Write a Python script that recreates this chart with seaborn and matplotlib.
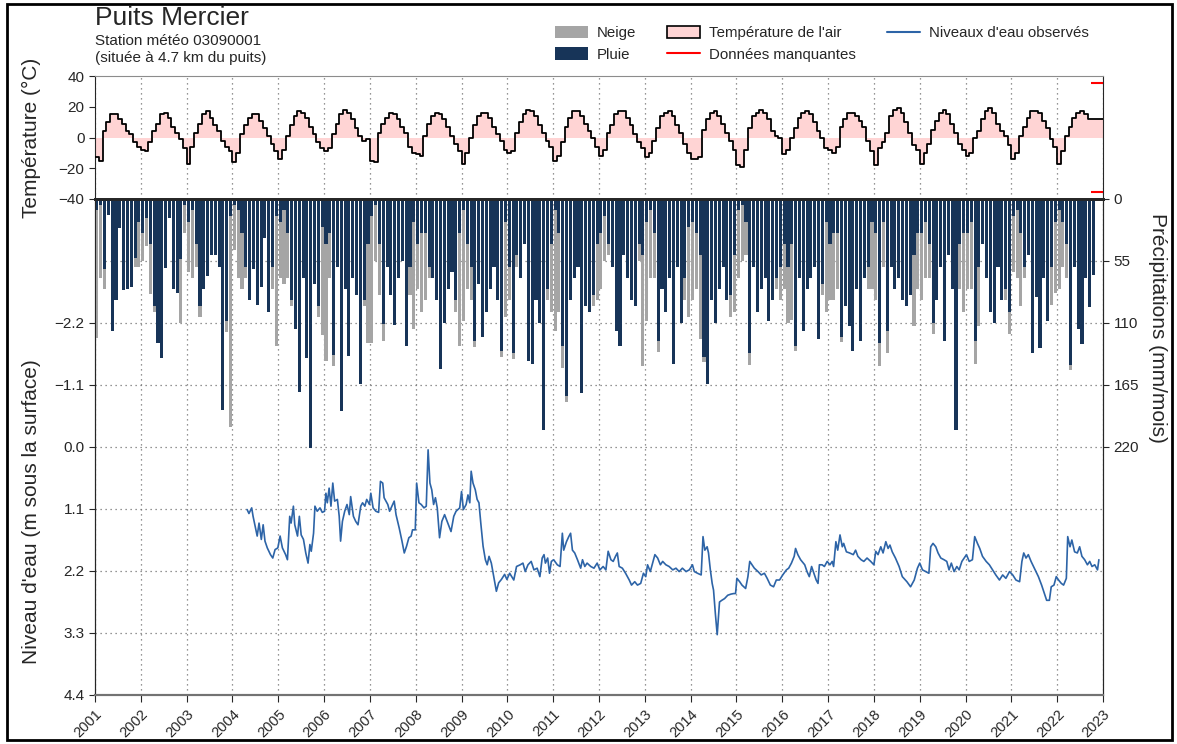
import numpy as np
import pandas as pd
import matplotlib
matplotlib.use("Agg")
import matplotlib.pyplot as plt
import seaborn as sns
from matplotlib.patches import Patch, Rectangle
from matplotlib.lines import Line2D

# ---------------- data ----------------
years = list(range(2001, 2023))

# monthly air temperature (deg C), Jan..Dec for each year
air_temp = [
    -13, -15, 4, 10, 15, 15, 12, 9, 4, 2, -3, -6,      # 2001
    -8, -9, -3, 4, 9, 15, 16, 13, 7, 3, -1, -7,        # 2002
    -17, -6, 3, 9, 15, 17, 13, 8, 4, -2, -6, -9,       # 2003
    -16, -10, 2, 8, 13, 15, 15, 11, 6, 1, -4, -9,      # 2004
    -14, -8, 1, 8, 14, 17, 16, 13, 7, 2, -3, -7,       # 2005
    -9, -7, 2, 9, 15, 18, 16, 12, 6, 1, -2, -1,        # 2006
    -15, -16, 3, 9, 13, 16, 15, 12, 7, 3, -6, -10,     # 2007
    -11, -12, 1, 9, 14, 16, 15, 12, 7, 1, -4, -9,      # 2008
    -17, -10, 0, 8, 14, 16, 16, 13, 7, 2, -2, -8,      # 2009
    -10, -9, 3, 10, 15, 18, 17, 14, 8, 3, -2, -6,      # 2010
    -15, -12, -3, 7, 13, 17, 17, 14, 9, 4, 0, -6,      # 2011
    -12, -8, 3, 8, 15, 17, 17, 13, 8, 2, -3, -7,       # 2012
    -13, -10, -2, 6, 14, 16, 17, 14, 8, 3, -4, -10,    # 2013
    -14, -14, -13, 5, 12, 16, 17, 14, 9, 3, -2, -8,    # 2014
    -18, -19, -8, 6, 14, 16, 18, 16, 12, 4, 1, 0,      # 2015
    -11, -8, 0, 6, 13, 16, 17, 15, 10, 4, 0, -7,       # 2016
    -8, -10, -6, 7, 12, 16, 16, 14, 11, 7, -2, -9,     # 2017
    -18, -7, -3, 3, 14, 18, 19, 16, 10, 3, -5, -8,     # 2018
    -17, -10, -4, 5, 11, 16, 18, 15, 9, 3, -4, -8,     # 2019
    -12, -10, 0, 4, 12, 17, 19, 16, 9, 4, 1, -5,       # 2020
    -14, -10, 1, 7, 13, 17, 17, 16, 11, 6, -1, -6,     # 2021
    -17, -9, 1, 7, 13, 16, 17, 15, 12, 12, 12, 12,     # 2022
]

nan = np.nan
# monthly rain (mm)
rain = [
    10, 5, 62, 14, 117, 90, 26, 81, 80, 78, 52, 20,
    30, 17, 40, 95, 128, 141, 61, 17, 80, 83, 53, 5,
    20, 10, 40, 95, 80, 68, 50, 50, 60, 187, 108, 15,
    5, 10, 30, 60, 90, 62, 94, 78, 35, 100, 60, 15,
    20, 10, 30, 90, 115, 171, 70, 141, 221, 75, 95, 25,
    40, 30, 138, 60, 188, 80, 139, 70, 85, 164, 90, 40,
    15, 5, 40, 111, 60, 85, 112, 70, 55, 130, 60, 20,
    40, 30, 30, 60, 70, 90, 151, 110, 80, 65, 90, 30,
    10, 40, 60, 126, 75, 122, 100, 80, 60, 90, 135, 20,
    60, 137, 50, 70, 40, 144, 146, 90, 110, 205, 80, 40,
    10, 30, 130, 175, 90, 70, 60, 172, 95, 100, 85, 40,
    30, 15, 40, 60, 117, 130, 50, 70, 90, 95, 40, 50,
    20, 10, 30, 126, 80, 100, 70, 146, 60, 110, 70, 25,
    20, 30, 50, 140, 164, 90, 110, 80, 60, 90, 85, 50,
    10, 5, 20, 137, 60, 100, 80, 70, 108, 90, 70, 60,
    40, 60, 40, 130, 70, 117, 80, 70, 60, 124, 75, 20,
    40, 30, 30, 122, 95, 113, 135, 80, 126, 70, 60, 20,
    30, 128, 20, 117, 60, 80, 70, 90, 95, 85, 50, 30,
    30, 20, 40, 110, 90, 60, 126, 50, 80, 205, 40, 30,
    30, 20, 126, 60, 40, 70, 100, 110, 60, 90, 80, 100,
    15, 10, 30, 60, 50, 137, 87, 132, 70, 108, 60, 20,
    10, 20, 40, 147, 60, 115, 129, 70, 96, 67, nan, nan,
]
# monthly snow (mm water equivalent)
snow = [
    113, 65, 18, 0, 0, 0, 0, 0, 0, 0, 8, 40,
    25, 25, 44, 5, 0, 0, 0, 0, 0, 0, 57, 25,
    45, 60, 20, 10, 0, 0, 0, 0, 0, 0, 10, 187,
    40, 60, 50, 10, 0, 0, 0, 0, 0, 0, 20, 115,
    50, 65, 40, 5, 0, 0, 0, 0, 0, 0, 10, 96,
    104, 40, 10, 0, 0, 0, 0, 0, 0, 0, 5, 88,
    113, 50, 45, 15, 0, 0, 0, 0, 0, 0, 25, 95,
    40, 70, 60, 10, 0, 0, 0, 0, 0, 0, 10, 100,
    98, 40, 30, 5, 0, 0, 0, 0, 0, 0, 5, 85,
    30, 5, 10, 0, 0, 0, 0, 0, 0, 0, 10, 60,
    107, 70, 20, 5, 0, 0, 0, 0, 0, 0, 10, 50,
    50, 40, 10, 0, 0, 0, 0, 0, 0, 0, 15, 98,
    88, 60, 40, 10, 0, 0, 0, 0, 0, 0, 20, 80,
    70, 50, 74, 5, 0, 0, 0, 0, 0, 0, 20, 50,
    60, 50, 30, 10, 0, 0, 0, 0, 0, 0, 10, 30,
    40, 50, 67, 5, 0, 0, 0, 0, 0, 0, 10, 80,
    50, 60, 50, 5, 0, 0, 0, 0, 0, 0, 20, 60,
    60, 20, 40, 20, 0, 0, 0, 0, 0, 0, 63, 50,
    60, 50, 30, 10, 0, 0, 0, 0, 0, 0, 40, 70,
    50, 60, 20, 53, 0, 0, 0, 0, 0, 0, 10, 20,
    50, 60, 65, 10, 0, 0, 0, 0, 0, 0, 34, 63,
    70, 40, 30, 5, 0, 0, 0, 0, 0, 0, nan, nan,
]

# observed water level (decimal year, m below surface)
wl_time = [
    2004.32, 2004.36, 2004.42, 2004.45, 2004.54, 2004.58, 2004.63, 2004.67, 2004.71, 2004.76,
    2004.83, 2004.88, 2004.93, 2004.99, 2005.04, 2005.09, 2005.16, 2005.20, 2005.25, 2005.28,
    2005.33, 2005.36, 2005.42, 2005.46, 2005.50, 2005.55, 2005.60, 2005.65, 2005.69, 2005.72,
    2005.77, 2005.80, 2005.85, 2005.91, 2005.96, 2006.01, 2006.04, 2006.07, 2006.11, 2006.15,
    2006.19, 2006.23, 2006.29, 2006.33, 2006.36, 2006.40, 2006.45, 2006.50, 2006.55, 2006.58,
    2006.64, 2006.69, 2006.74, 2006.80, 2006.84, 2006.89, 2006.93, 2006.99, 2007.02, 2007.07,
    2007.13, 2007.19, 2007.23, 2007.28, 2007.31, 2007.39, 2007.43, 2007.48, 2007.53, 2007.57,
    2007.64, 2007.70, 2007.75, 2007.80, 2007.85, 2007.90, 2007.93, 2007.99, 2008.02, 2008.07,
    2008.12, 2008.18, 2008.23, 2008.27, 2008.31, 2008.35, 2008.39, 2008.43, 2008.47, 2008.52,
    2008.57, 2008.63, 2008.70, 2008.77, 2008.83, 2008.88, 2008.96, 2009.00, 2009.04, 2009.10,
    2009.14, 2009.18, 2009.21, 2009.25, 2009.30, 2009.34, 2009.38, 2009.42, 2009.47, 2009.52,
    2009.56, 2009.60, 2009.65, 2009.70, 2009.76, 2009.81, 2009.87, 2009.94, 2009.99, 2010.05,
    2010.14, 2010.20, 2010.28, 2010.34, 2010.39, 2010.45, 2010.52, 2010.58, 2010.65, 2010.71,
    2010.76, 2010.80, 2010.83, 2010.88, 2010.92, 2010.96, 2011.01, 2011.09, 2011.15, 2011.20,
    2011.23, 2011.29, 2011.34, 2011.38, 2011.42, 2011.47, 2011.53, 2011.60, 2011.64, 2011.69,
    2011.74, 2011.82, 2011.89, 2011.96, 2012.02, 2012.09, 2012.15, 2012.20, 2012.26, 2012.31,
    2012.36, 2012.40, 2012.44, 2012.51, 2012.58, 2012.66, 2012.71, 2012.78, 2012.84, 2012.91,
    2012.97, 2013.02, 2013.06, 2013.12, 2013.17, 2013.22, 2013.28, 2013.34, 2013.39, 2013.46,
    2013.53, 2013.61, 2013.68, 2013.75, 2013.82, 2013.90, 2013.97, 2014.04, 2014.08, 2014.15,
    2014.23, 2014.27, 2014.31, 2014.36, 2014.39, 2014.43, 2014.47, 2014.50, 2014.54, 2014.58,
    2014.63, 2014.68, 2014.74, 2014.81, 2014.88, 2014.94, 2014.98, 2015.01, 2015.07, 2015.12,
    2015.20, 2015.25, 2015.29, 2015.34, 2015.39, 2015.47, 2015.54, 2015.61, 2015.67, 2015.74,
    2015.81, 2015.87, 2015.94, 2016.01, 2016.09, 2016.14, 2016.20, 2016.26, 2016.29, 2016.34,
    2016.40, 2016.49, 2016.54, 2016.59, 2016.64, 2016.69, 2016.74, 2016.78, 2016.81, 2016.87,
    2016.92, 2016.98, 2017.04, 2017.09, 2017.12, 2017.17, 2017.21, 2017.26, 2017.31, 2017.34,
    2017.40, 2017.47, 2017.55, 2017.60, 2017.65, 2017.72, 2017.78, 2017.85, 2017.93, 2018.00,
    2018.04, 2018.09, 2018.15, 2018.20, 2018.26, 2018.31, 2018.35, 2018.40, 2018.47, 2018.55,
    2018.62, 2018.72, 2018.80, 2018.88, 2018.95, 2019.00, 2019.06, 2019.13, 2019.20, 2019.24,
    2019.29, 2019.35, 2019.40, 2019.46, 2019.53, 2019.59, 2019.64, 2019.69, 2019.75, 2019.81,
    2019.86, 2019.92, 2019.97, 2020.02, 2020.08, 2020.15, 2020.20, 2020.26, 2020.31, 2020.37,
    2020.45, 2020.52, 2020.59, 2020.66, 2020.74, 2020.81, 2020.88, 2020.96, 2021.03, 2021.10,
    2021.18, 2021.23, 2021.27, 2021.32, 2021.37, 2021.43, 2021.50, 2021.59, 2021.66, 2021.72,
    2021.77, 2021.83, 2021.87, 2021.93, 2021.98, 2022.03, 2022.09, 2022.14, 2022.20, 2022.23,
    2022.28, 2022.32, 2022.38, 2022.44, 2022.49, 2022.54, 2022.60, 2022.66, 2022.71, 2022.76,
    2022.82, 2022.88, 2022.91,
]
wl_depth = [
    1.11, 1.18, 1.08, 1.23, 1.58, 1.35, 1.64, 1.38, 1.67, 1.79,
    1.91, 1.97, 1.82, 1.79, 1.58, 1.79, 1.91, 2.00, 1.23, 1.35,
    1.05, 1.38, 1.58, 1.23, 1.56, 1.64, 1.88, 2.06, 1.73, 1.85,
    1.53, 1.05, 1.14, 1.08, 1.16, 1.14, 0.82, 0.99, 0.73, 1.05,
    0.64, 0.96, 0.93, 1.23, 1.67, 1.32, 1.14, 1.02, 1.20, 0.88,
    1.23, 1.32, 1.38, 1.05, 0.99, 1.05, 0.93, 1.02, 0.82, 1.08,
    1.14, 1.16, 0.61, 0.64, 0.90, 1.02, 1.14, 1.05, 0.96, 1.20,
    1.44, 1.67, 1.88, 1.76, 1.61, 1.58, 1.47, 1.47, 0.64, 0.99,
    1.02, 1.08, 1.05, 0.05, 0.64, 0.76, 1.02, 0.90, 1.08, 1.61,
    1.32, 1.20, 1.35, 1.50, 1.23, 1.14, 1.08, 0.79, 1.11, 1.02,
    0.85, 0.99, 0.43, 0.64, 0.76, 0.93, 0.99, 1.35, 1.76, 2.00,
    2.09, 1.94, 2.06, 2.29, 2.56, 2.41, 2.35, 2.26, 2.35, 2.24,
    2.36, 2.12, 2.09, 2.06, 2.21, 2.09, 2.03, 2.18, 2.15, 2.30,
    1.97, 1.91, 2.06, 1.97, 2.24, 2.03, 2.00, 2.09, 2.12, 1.53,
    1.83, 1.68, 1.59, 1.53, 1.83, 1.88, 2.00, 2.15, 2.00, 2.12,
    2.06, 2.12, 2.15, 2.06, 2.18, 2.12, 2.18, 1.85, 2.00, 2.03,
    1.94, 1.88, 2.12, 2.15, 2.24, 2.36, 2.45, 2.39, 2.45, 2.42,
    2.24, 2.30, 2.09, 2.21, 2.06, 1.91, 1.97, 2.09, 2.03, 2.09,
    2.12, 2.18, 2.15, 2.21, 2.15, 2.21, 2.18, 2.09, 2.21, 2.24,
    2.27, 1.59, 1.83, 1.77, 1.88, 2.18, 2.42, 2.54, 2.96, 3.33,
    2.75, 2.72, 2.69, 2.63, 2.61, 2.60, 2.60, 2.33, 2.39, 2.45,
    2.51, 2.30, 2.03, 2.09, 2.15, 2.21, 2.27, 2.24, 2.33, 2.45,
    2.48, 2.36, 2.36, 2.27, 2.18, 2.15, 2.06, 1.94, 1.80, 1.91,
    2.00, 2.09, 2.21, 2.30, 2.12, 2.24, 2.36, 2.42, 2.09, 2.09,
    2.12, 2.03, 2.09, 2.03, 2.12, 1.68, 1.83, 1.56, 1.77, 1.71,
    1.86, 1.88, 1.91, 1.83, 1.94, 2.00, 2.03, 1.97, 2.03, 2.09,
    1.85, 1.91, 1.77, 1.88, 1.68, 1.80, 1.74, 1.86, 1.97, 2.12,
    2.30, 2.39, 2.48, 2.36, 2.15, 2.06, 2.18, 2.21, 2.24, 1.77,
    1.71, 1.77, 1.88, 1.97, 2.00, 2.03, 2.18, 2.06, 2.21, 2.12,
    2.18, 2.03, 1.97, 1.91, 2.03, 2.00, 1.59, 1.71, 1.80, 1.94,
    2.03, 2.09, 2.18, 2.27, 2.36, 2.27, 2.33, 2.21, 2.27, 2.36,
    2.39, 2.03, 1.88, 1.97, 1.91, 2.03, 2.15, 2.30, 2.45, 2.60,
    2.72, 2.72, 2.48, 2.45, 2.30, 2.36, 2.42, 2.45, 2.33, 1.59,
    1.77, 1.65, 1.86, 1.88, 1.77, 1.94, 2.00, 2.09, 2.03, 2.12,
    2.09, 2.18, 2.00,
]

year_ticks = list(range(2001, 2024))
temp_ticks = [-40, -20, 0, 20, 40]
level_ticks = [-2.2, -1.1, 0.0, 1.1, 2.2, 3.3, 4.4]
precip_ticks = [0, 55, 110, 165, 220]
missing_period = (2022.73, 2023.0)

# ---------------- style ----------------
sns.set_style("ticks")
plt.rcParams["font.family"] = ["Liberation Sans", "DejaVu Sans"]

c_rain = "#173458"
c_snow = "#a5a5a5"
c_temp = "#ffd4d4"
c_wl = "#2d64a7"
grid_kw = dict(color="0.45", ls=(0, (1, 3)), lw=0.9)

fig = plt.figure(figsize=(11.77, 7.44), dpi=100)
L, W = 95 / 1177, 1008 / 1177
ax_t = fig.add_axes([L, 1 - 199 / 744, W, 123 / 744])
ax_m = fig.add_axes([L, 1 - 695 / 744, W, 496 / 744])
ax_p = ax_m.twinx()

# ---------------- temperature ----------------
t_month = [y + m / 12 for y in years for m in range(12)]
t_ext = t_month + [years[-1] + 1]
T_ext = air_temp + [air_temp[-1]]
df_t = pd.DataFrame({"t": t_ext, "T": T_ext})
ax_t.fill_between(df_t["t"], 0, df_t["T"], step="post", color=c_temp, lw=0, zorder=1)
sns.lineplot(data=df_t, x="t", y="T", ax=ax_t, color="black", lw=1.3,
             drawstyle="steps-post", zorder=3)
ax_t.hlines([35.5, -35.5], *missing_period, color="red", lw=1.5, zorder=4)
ax_t.set_xlim(2001, 2023)
ax_t.set_ylim(-40, 40)
ax_t.set_yticks(temp_ticks)
ax_t.set_xticks(year_ticks)
ax_t.tick_params(axis="x", length=0, labelbottom=False)
ax_t.tick_params(axis="y", labelsize=11, length=4)
ax_t.grid(True, axis="x", **grid_kw)
ax_t.set_xlabel("")
ax_t.set_ylabel("Température (°C)", fontsize=15)
ax_t.yaxis.set_label_coords(-0.054, 0.5)
ax_t.spines["top"].set_color("0.55")
ax_t.spines["bottom"].set_linewidth(2)
ax_t.spines["right"].set_visible(True)

# ---------------- precipitation ----------------
centers = [y + (m + 0.5) / 12 for y in years for m in range(12)]
ax_p.bar(centers, rain, width=0.82 / 12, color=c_rain, lw=0, zorder=2)
ax_p.bar(centers, snow, bottom=rain, width=0.82 / 12, color=c_snow, lw=0, zorder=2)
ax_p.set_ylim(440, 0)
ax_p.set_yticks(precip_ticks)
ax_p.tick_params(axis="y", labelsize=11, length=4)
ax_p.set_ylabel("Précipitations (mm/mois)", fontsize=15, rotation=270, va="bottom")
ax_p.yaxis.set_label_coords(1.045, 0.74)

# ---------------- water level ----------------
df_w = pd.DataFrame({"t": wl_time, "d": wl_depth})
sns.lineplot(data=df_w, x="t", y="d", ax=ax_m, color=c_wl, lw=1.2, sort=False)
ax_m.set_ylim(4.4, -4.4)
ax_m.set_yticks(level_ticks)
ax_m.set_yticklabels([f"{v:.1f}".replace("-", "\u2212") for v in level_ticks])
ax_m.set_yticks([-3.3], minor=True)
ax_m.tick_params(axis="y", which="minor", length=0)
ax_m.tick_params(axis="y", labelsize=11, length=4)
ax_m.set_xlim(2001, 2023)
ax_m.set_xticks(year_ticks)
ax_m.set_xticklabels([str(y) for y in year_ticks], rotation=45, ha="right",
                     rotation_mode="anchor", fontsize=10.5)
ax_m.tick_params(axis="x", length=5)
ax_m.grid(True, which="both", axis="both", **grid_kw)
ax_m.set_xlabel("")
ax_m.set_ylabel("Niveau d'eau (m sous la surface)", fontsize=15)
ax_m.yaxis.set_label_coords(-0.054, 0.37)
for ax in (ax_m, ax_p):
    ax.spines["top"].set_linewidth(2)
    ax.spines["bottom"].set_color("0.45")
    ax.spines["bottom"].set_linewidth(1.5)
    ax.spines["right"].set_visible(True)
ax_m.set_zorder(ax_p.get_zorder() - 1)
ax_p.patch.set_visible(False)

# ---------------- titles & legend ----------------
fig.text(95 / 1177, 1 - 18 / 744, "Puits Mercier", fontsize=19, va="center", ha="left")
fig.text(95 / 1177, 1 - 41 / 744, "Station météo 03090001", fontsize=11, va="center")
fig.text(95 / 1177, 1 - 58 / 744, "(située à 4.7 km du puits)", fontsize=11, va="center")

handles = [
    Patch(facecolor=c_snow, edgecolor="none", label="Neige"),
    Patch(facecolor=c_rain, edgecolor="none", label="Pluie"),
    Patch(facecolor=c_temp, edgecolor="black", lw=1.2, label="Température de l'air"),
    Line2D([], [], color="red", lw=1.5, label="Données manquantes"),
    Line2D([], [], color=c_wl, lw=1.5, label="Niveaux d'eau observés"),
]
fig.legend(handles=handles, loc="upper left", bbox_to_anchor=(555 / 1177, 1 - 26 / 744),
           ncol=3, frameon=False, fontsize=10.8, handlelength=2.2, handleheight=0.9,
           handletextpad=0.6, columnspacing=2.05, labelspacing=0.45, borderaxespad=0,
           borderpad=0)

fig.add_artist(Rectangle((7 / 1177, 4 / 744), 1165 / 1177, 736 / 744,
                         transform=fig.transFigure, fill=False, lw=2, ec="black"))

fig.savefig("out.png", dpi=100)
